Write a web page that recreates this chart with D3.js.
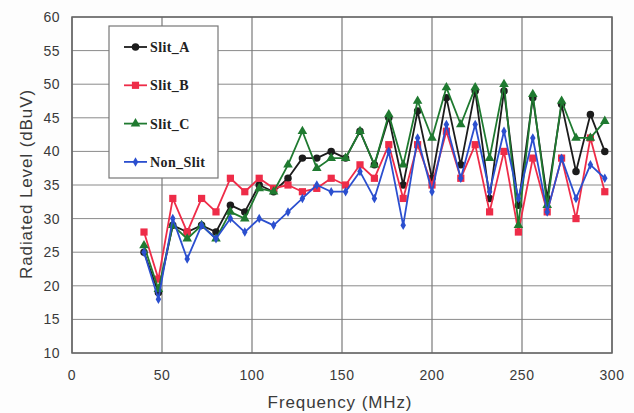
<!DOCTYPE html>
<html>
<head>
<meta charset="utf-8">
<script src="https://cdn.jsdelivr.net/npm/d3@7"></script>
<style>
  body { margin: 0; background: #fdfdfd; }
  svg { display: block; }
  .tick-label { font-family: "Liberation Sans", Arial, sans-serif; font-size: 14px; fill: #3a3a3a; letter-spacing: 0.5px; }
  .axis-title { font-family: "Liberation Sans", Arial, sans-serif; font-size: 17px; fill: #3a3a3a; letter-spacing: 0.9px; }
  .legend-text { font-family: "Liberation Serif", "DejaVu Serif", serif; font-size: 14px; font-weight: bold; fill: #222; letter-spacing: 0.4px; }
</style>
</head>
<body>
<svg id="chart" width="634" height="413"></svg>
<script>
// frequency points (MHz)
const freq = [40, 48, 56, 64, 72, 80, 88, 96, 104, 112, 120, 128, 136, 144, 152, 160, 168,
  176, 184, 192, 200, 208, 216, 224, 232, 240, 248, 256, 264, 272, 280, 288, 296];

// radiated level (dBuV)
const slitA = [25, 19, 29, 28, 29, 28, 32, 31, 35, 34, 36, 39, 39, 40, 39, 43, 38,
  45, 35, 46, 36, 48, 38, 49, 33, 49, 32, 48, 33, 47, 37, 45.5, 40];
const slitB = [28, 21, 33, 28, 33, 31, 36, 34, 36, 34.5, 35, 34, 34.5, 36, 35, 38, 36,
  41, 33, 41, 35, 43, 36, 41, 31, 40, 28, 39, 31, 39, 30, 42, 34];
const slitC = [26, 19.5, 29, 27, 29, 27, 31, 30, 34.5, 34, 38, 43, 37.5, 39, 39, 43, 38,
  45.5, 38, 47.5, 42, 49.5, 44, 49.5, 39, 50, 29, 48.5, 32, 47.5, 42, 42, 44.5];
const nonSlit = [25, 18, 30, 24, 29, 27, 30, 28, 30, 29, 31, 33, 35, 34, 34, 37, 33,
  40, 29, 42, 34, 44, 36, 44, 34, 43, 33, 42, 31, 39, 33, 38, 36];

const xTicks = [0, 50, 100, 150, 200, 250, 300];
const yTicks = [10, 15, 20, 25, 30, 35, 40, 45, 50, 55, 60];

const series = [
  { name: "Slit_A", values: slitA, color: "#1c1c1c", marker: "circle" },
  { name: "Slit_B", values: slitB, color: "#ee2c48", marker: "square" },
  { name: "Slit_C", values: slitC, color: "#1f7a30", marker: "triangle" },
  { name: "Non_Slit", values: nonSlit, color: "#2b4fcf", marker: "diamond" }
];

const svg = d3.select("#chart");
const plot = { left: 72, right: 612, top: 17, bottom: 353 };

const x = d3.scaleLinear().domain([0, 300]).range([plot.left, plot.right]);
const y = d3.scaleLinear().domain([10, 60]).range([plot.bottom, plot.top]);

// plot background
svg.append("rect")
  .attr("x", plot.left).attr("y", plot.top)
  .attr("width", plot.right - plot.left).attr("height", plot.bottom - plot.top)
  .attr("fill", "#ffffff");

// grid
svg.append("g").selectAll("line")
  .data(yTicks)
  .enter().append("line")
  .attr("x1", plot.left).attr("x2", plot.right)
  .attr("y1", d => y(d)).attr("y2", d => y(d))
  .attr("stroke", "#8a8a8a").attr("stroke-width", 1);

svg.append("g").selectAll("line")
  .data(xTicks)
  .enter().append("line")
  .attr("x1", d => x(d)).attr("x2", d => x(d))
  .attr("y1", plot.top).attr("y2", plot.bottom)
  .attr("stroke", "#7a7a7a").attr("stroke-width", 1.2);

// frame
svg.append("rect")
  .attr("x", plot.left).attr("y", plot.top)
  .attr("width", plot.right - plot.left).attr("height", plot.bottom - plot.top)
  .attr("fill", "none").attr("stroke", "#666").attr("stroke-width", 1.5);

// tick labels
svg.append("g").selectAll("text")
  .data(yTicks)
  .enter().append("text")
  .attr("class", "tick-label")
  .attr("x", plot.left - 12)
  .attr("y", d => y(d) + 5)
  .attr("text-anchor", "end")
  .text(d => d);

svg.append("g").selectAll("text")
  .data(xTicks)
  .enter().append("text")
  .attr("class", "tick-label")
  .attr("x", d => x(d))
  .attr("y", 380)
  .attr("text-anchor", "middle")
  .text(d => d);

// axis titles
svg.append("text")
  .attr("class", "axis-title")
  .attr("x", 340).attr("y", 408)
  .attr("text-anchor", "middle")
  .text("Frequency (MHz)");

svg.append("text")
  .attr("class", "axis-title")
  .attr("transform", "translate(32,184) rotate(-90)")
  .attr("text-anchor", "middle")
  .text("Radiated Level (dBuV)");

function markerPath(type) {
  if (type === "circle") return d3.symbol(d3.symbolCircle, 44)();
  if (type === "square") return d3.symbol(d3.symbolSquare, 52)();
  if (type === "triangle") return d3.symbol(d3.symbolTriangle, 40)();
  return d3.symbol(d3.symbolDiamond, 26)();
}

const line = d3.line()
  .x((d, i) => x(freq[i]))
  .y(d => y(d));

series.forEach(s => {
  const g = svg.append("g");
  g.append("path")
    .datum(s.values)
    .attr("d", line)
    .attr("fill", "none")
    .attr("stroke", s.color)
    .attr("stroke-width", 1.8)
    .attr("stroke-linejoin", "round");
  g.selectAll("path.mk")
    .data(s.values)
    .enter().append("path")
    .attr("class", "mk")
    .attr("d", markerPath(s.marker))
    .attr("transform", (d, i) => `translate(${x(freq[i])},${y(d)})`)
    .attr("fill", s.color);
});

// legend
const legend = svg.append("g");
legend.append("rect")
  .attr("x", 109).attr("y", 26)
  .attr("width", 109).attr("height", 152)
  .attr("fill", "#ffffff")
  .attr("stroke", "#777").attr("stroke-width", 1.2);

const item = legend.selectAll("g.item")
  .data(series)
  .enter().append("g")
  .attr("class", "item")
  .attr("transform", (d, i) => `translate(0,${47 + i * 38.3})`);

item.append("line")
  .attr("x1", 124).attr("x2", 147)
  .attr("stroke", d => d.color).attr("stroke-width", 1.8);
item.append("path")
  .attr("d", d => markerPath(d.marker))
  .attr("transform", "translate(135.5,0)")
  .attr("fill", d => d.color);
item.append("text")
  .attr("class", "legend-text")
  .attr("x", 150).attr("y", 5)
  .text(d => d.name);
</script>
</body>
</html>
